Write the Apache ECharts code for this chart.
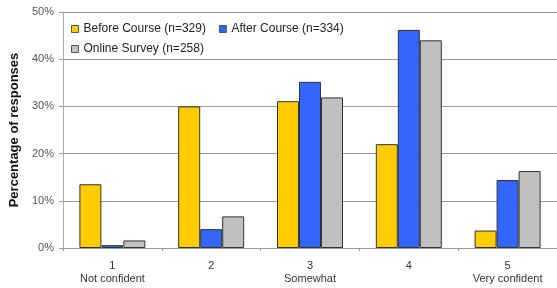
<!DOCTYPE html>
<html>
<head>
<meta charset="utf-8">
<script src="https://cdn.jsdelivr.net/npm/echarts@6/dist/echarts.min.js"></script>
<style>
    html, body { margin: 0; padding: 0; background: #fff; }
    #chart { width: 557px; height: 288px; }
</style>
</head>
<body>
<div id="chart"></div>
<script>
// confidence levels on the x axis
const categories = ["1\nNot confident", "2", "3\nSomewhat", "4", "5\nVery confident"];
const seriesNames = ["Before Course (n=329)", "After Course (n=334)", "Online Survey (n=258)"];
// percentage of responses
const beforeCourse = [13.5, 30.0, 31.1, 22.0, 3.7];
const afterCourse = [0.6, 4.0, 35.2, 46.2, 14.4];
const onlineSurvey = [1.6, 6.7, 31.9, 44.0, 16.3];
const yTicks = [0, 10, 20, 30, 40, 50];

const colors = ["#ffcc00", "#3366ff", "#c0c0c0"];
const font = "Liberation Sans, Arial, sans-serif";

const myChart = echarts.init(document.getElementById("chart"), null, { renderer: "canvas" });

const legendText = { fontFamily: font, fontSize: 12, color: "#222" };
const legendIcon = { borderColor: "#555", borderWidth: 1 };

const option = {
    animation: false,
    backgroundColor: "#fff",
    color: colors,
    grid: { left: 62, right: -5, top: 12, bottom: 40, containLabel: false },
    legend: [
        {
            data: seriesNames.slice(0, 2),
            left: 66,
            top: 18,
            icon: "rect",
            itemWidth: 7,
            itemHeight: 7,
            itemGap: 13,
            textStyle: legendText,
            itemStyle: legendIcon
        },
        {
            data: seriesNames.slice(2),
            left: 66,
            top: 38,
            icon: "rect",
            itemWidth: 7,
            itemHeight: 7,
            textStyle: legendText,
            itemStyle: legendIcon
        }
    ],
    xAxis: {
        type: "category",
        data: categories,
        axisLine: { lineStyle: { color: "#999" } },
        axisTick: { show: true, length: 3, lineStyle: { color: "#999" } },
        axisLabel: {
            fontFamily: font,
            fontSize: 11,
            color: "#333",
            lineHeight: 13,
            margin: 11
        }
    },
    yAxis: {
        type: "value",
        min: yTicks[0],
        max: yTicks[yTicks.length - 1],
        interval: 10,
        name: "Percentage of responses",
        nameLocation: "middle",
        nameGap: 42,
        nameTextStyle: { fontFamily: font, fontSize: 13, fontWeight: "bold", color: "#111" },
        axisLine: { show: true, lineStyle: { color: "#aaa" } },
        axisTick: { show: true, length: 4, lineStyle: { color: "#999" } },
        axisLabel: {
            fontFamily: font,
            fontSize: 11,
            color: "#555",
            margin: 9,
            formatter: "{value}%"
        },
        splitLine: { lineStyle: { color: "#999" } }
    },
    series: [
        { name: seriesNames[0], type: "bar", data: beforeCourse },
        { name: seriesNames[1], type: "bar", data: afterCourse },
        { name: seriesNames[2], type: "bar", data: onlineSurvey }
    ].map(s => Object.assign(s, {
        barWidth: 22,
        barGap: "0%",
        itemStyle: { borderColor: "#333", borderWidth: 1 }
    }))
};

myChart.setOption(option);
</script>
</body>
</html>
